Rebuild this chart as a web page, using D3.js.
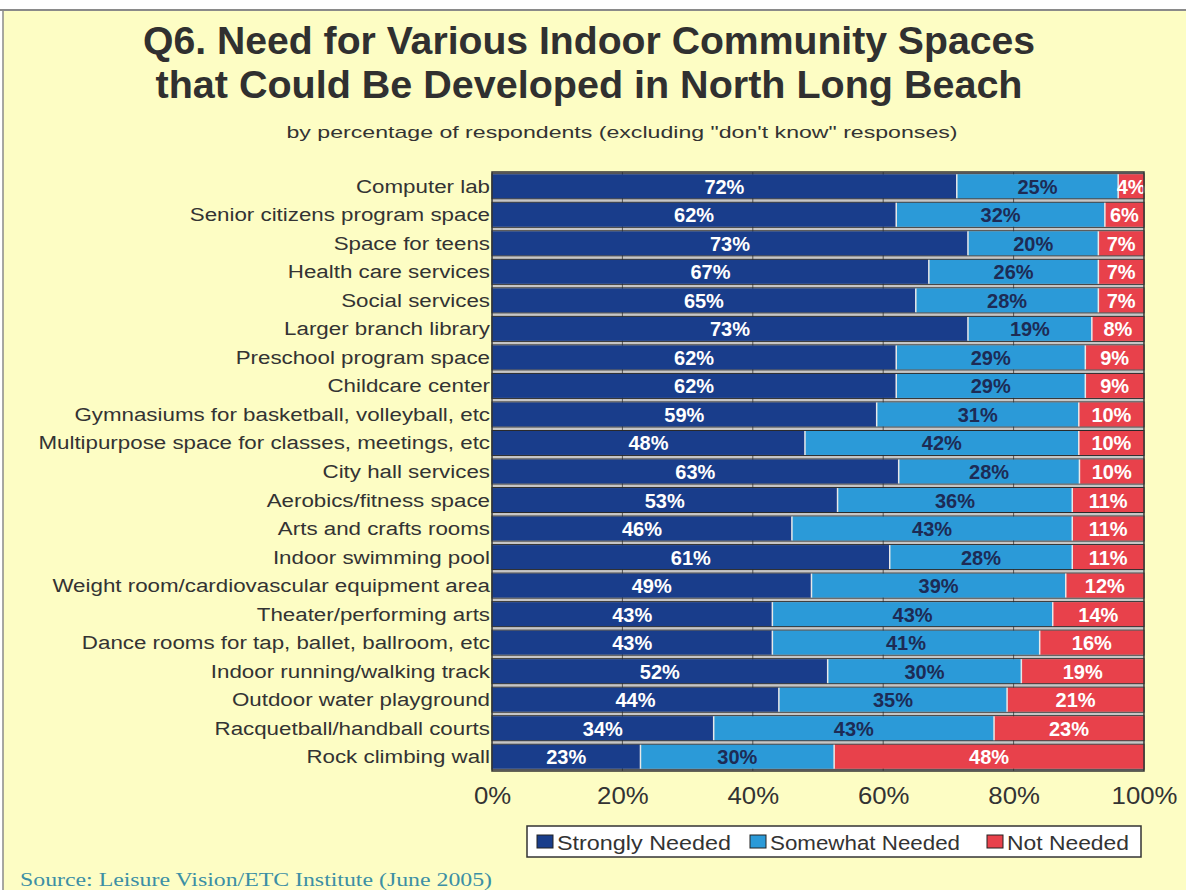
<!DOCTYPE html>
<html><head><meta charset="utf-8">
<script src="https://cdn.jsdelivr.net/npm/d3@7"></script>
<style>body{margin:0;background:#fff;} svg{display:block;}</style>
</head><body>
<svg id="c" width="1186" height="890"></svg>
<script>
const categories = ["Computer lab","Senior citizens program space","Space for teens","Health care services","Social services","Larger branch library","Preschool program space","Childcare center","Gymnasiums for basketball, volleyball, etc","Multipurpose space for classes, meetings, etc","City hall services","Aerobics/fitness space","Arts and crafts rooms","Indoor swimming pool","Weight room/cardiovascular equipment area","Theater/performing arts","Dance rooms for tap, ballet, ballroom, etc","Indoor running/walking track","Outdoor water playground","Racquetball/handball courts","Rock climbing wall"];
const stronglyNeeded = [72,62,73,67,65,73,62,62,59,48,63,53,46,61,49,43,43,52,44,34,23];
const somewhatNeeded = [25,32,20,26,28,19,29,29,31,42,28,36,43,28,39,43,41,30,35,43,30];
const notNeeded      = [4,6,7,7,7,8,9,9,10,10,10,11,11,11,12,14,16,19,21,23,48];
const seriesNames = ["Strongly Needed","Somewhat Needed","Not Needed"];
const tickValues = [0,0.2,0.4,0.6,0.8,1];
const tickLabels = ["0%","20%","40%","60%","80%","100%"];

const colors = ["#193d8b","#2b9ad8","#e8414b"];
const labelColors = ["#ffffff","#1d2b55","#ffffff"];
const SANS = "Liberation Sans, Arial, sans-serif";

const svg = d3.select("#c");
svg.append("rect").attr("x",0).attr("y",0).attr("width",1186).attr("height",890).attr("fill","#ffffff");
svg.append("rect").attr("x",3).attr("y",10).attr("width",1183).attr("height",880).attr("fill","#fdfdc4");
svg.append("line").attr("x1",0).attr("x2",1186).attr("y1",10).attr("y2",10).attr("stroke","#8a8a8a").attr("stroke-width",2);
svg.append("line").attr("x1",3).attr("x2",3).attr("y1",10).attr("y2",890).attr("stroke","#8a8a8a").attr("stroke-width",1.5);

function stretch(sel, factor){
  sel.each(function(){
    const n=this; const w=n.getComputedTextLength();
    n.setAttribute("textLength", w*factor);
    n.setAttribute("lengthAdjust","spacingAndGlyphs");
  });
}

svg.append("text").attr("x",589).attr("y",54).attr("text-anchor","middle")
  .attr("font-family",SANS).attr("font-weight","bold").attr("font-size",38)
  .attr("fill","#303030").attr("textLength",892).attr("lengthAdjust","spacingAndGlyphs")
  .text("Q6. Need for Various Indoor Community Spaces");
svg.append("text").attr("x",589).attr("y",98).attr("text-anchor","middle")
  .attr("font-family",SANS).attr("font-weight","bold").attr("font-size",38)
  .attr("fill","#303030").attr("textLength",867).attr("lengthAdjust","spacingAndGlyphs")
  .text("that Could Be Developed in North Long Beach");
svg.append("text").attr("x",622).attr("y",138).attr("text-anchor","middle")
  .attr("font-family",SANS).attr("font-size",17)
  .attr("fill","#333").attr("textLength",671).attr("lengthAdjust","spacingAndGlyphs")
  .text("by percentage of respondents (excluding \"don't know\" responses)");

const pLeft = 492, pRight = 1144, pTop = 172, pBottom = 771;
const x = d3.scaleLinear().domain([0,1]).range([pLeft,pRight]);
const y = d3.scaleBand().domain(categories).range([pTop,pBottom]).paddingInner(0.16).paddingOuter(0.08);

// category labels: right edge at 490, horizontally widened like the original
const catLabels = svg.append("g").selectAll("text").data(categories).join("text")
  .attr("x",0).attr("y",d=>y(d)+y.bandwidth()/2+6.5)
  .attr("font-family",SANS).attr("font-size",18).attr("fill","#333")
  .text(d=>d);
catLabels.each(function(){
  const w=this.getComputedTextLength()*1.24;
  this.setAttribute("textLength",w);
  this.setAttribute("lengthAdjust","spacingAndGlyphs");
  this.setAttribute("x",490-w);
});

svg.append("rect").attr("x",pLeft).attr("y",pTop).attr("width",pRight-pLeft).attr("height",pBottom-pTop).attr("fill","#c6c6c6");
svg.append("g").selectAll("line").data(tickValues.slice(1,-1)).join("line")
  .attr("x1",d=>x(d)).attr("x2",d=>x(d)).attr("y1",pTop).attr("y2",pBottom).attr("stroke","#555").attr("stroke-width",1);

const rows = categories.map((c,i)=>{
  const vals=[stronglyNeeded[i],somewhatNeeded[i],notNeeded[i]];
  const tot=d3.sum(vals);
  let acc=0;
  return vals.map((v,k)=>{const s={cat:c,k,v,x0:acc/tot,x1:(acc+v)/tot};acc+=v;return s;});
});

const g = svg.append("g");
rows.forEach(r=>{
  const cat=r[0].cat;
  g.append("rect").attr("x",x(0)).attr("y",y(cat)-0.5).attr("width",x(1)-x(0)).attr("height",y.bandwidth()+1)
    .attr("fill","none").attr("stroke","#2a2a2a").attr("stroke-width",1);
  r.forEach(s=>{
    g.append("rect").attr("x",x(s.x0)).attr("y",y(cat)).attr("width",x(s.x1)-x(s.x0)).attr("height",y.bandwidth())
      .attr("fill",colors[s.k]);
  });
  r.slice(0,2).forEach(s=>{
    g.append("line").attr("x1",x(s.x1)).attr("x2",x(s.x1)).attr("y1",y(cat)).attr("y2",y(cat)+y.bandwidth())
      .attr("stroke","#e8e8e8").attr("stroke-width",1.5);
  });
  r.forEach(s=>{
    g.append("text").attr("x",(x(s.x0)+x(s.x1))/2).attr("y",y(cat)+y.bandwidth()/2+7.5)
      .attr("text-anchor","middle").attr("font-family",SANS)
      .attr("font-weight","bold").attr("font-size",20).attr("fill",labelColors[s.k]).text(s.v+"%");
  });
});
svg.append("rect").attr("x",pLeft).attr("y",pTop).attr("width",pRight-pLeft).attr("height",pBottom-pTop)
  .attr("fill","none").attr("stroke","#333").attr("stroke-width",1.5);

const ax = svg.append("g").attr("transform",`translate(0,${pBottom})`)
  .call(d3.axisBottom(x).tickValues(tickValues).tickFormat((d,i)=>tickLabels[i]).tickSize(0).tickPadding(17));
ax.select(".domain").remove();
ax.selectAll("text").attr("font-family",SANS).attr("font-size",23).attr("fill","#333");
stretch(ax.selectAll("text"),1.12);

const lg = svg.append("g");
lg.append("rect").attr("x",527).attr("y",826).attr("width",614).attr("height",31).attr("fill","#fff").attr("stroke","#333").attr("stroke-width",1.5);
const legX=[537,750,987];
const legW=[174,190,122];
seriesNames.forEach((n,i)=>{
  lg.append("rect").attr("x",legX[i]).attr("y",835).attr("width",16).attr("height",13).attr("fill",colors[i]).attr("stroke","#222").attr("stroke-width",1);
  lg.append("text").attr("x",legX[i]+20).attr("y",850).attr("font-family",SANS)
    .attr("font-size",20).attr("fill","#333").attr("textLength",legW[i]).attr("lengthAdjust","spacingAndGlyphs").text(n);
});

svg.append("text").attr("x",20).attr("y",886).attr("font-family","Liberation Serif, Times New Roman, serif")
  .attr("font-size",18).attr("fill","#3c8fa5").attr("textLength",472).attr("lengthAdjust","spacingAndGlyphs")
  .text("Source:  Leisure Vision/ETC Institute (June 2005)");
</script>
</body></html>
